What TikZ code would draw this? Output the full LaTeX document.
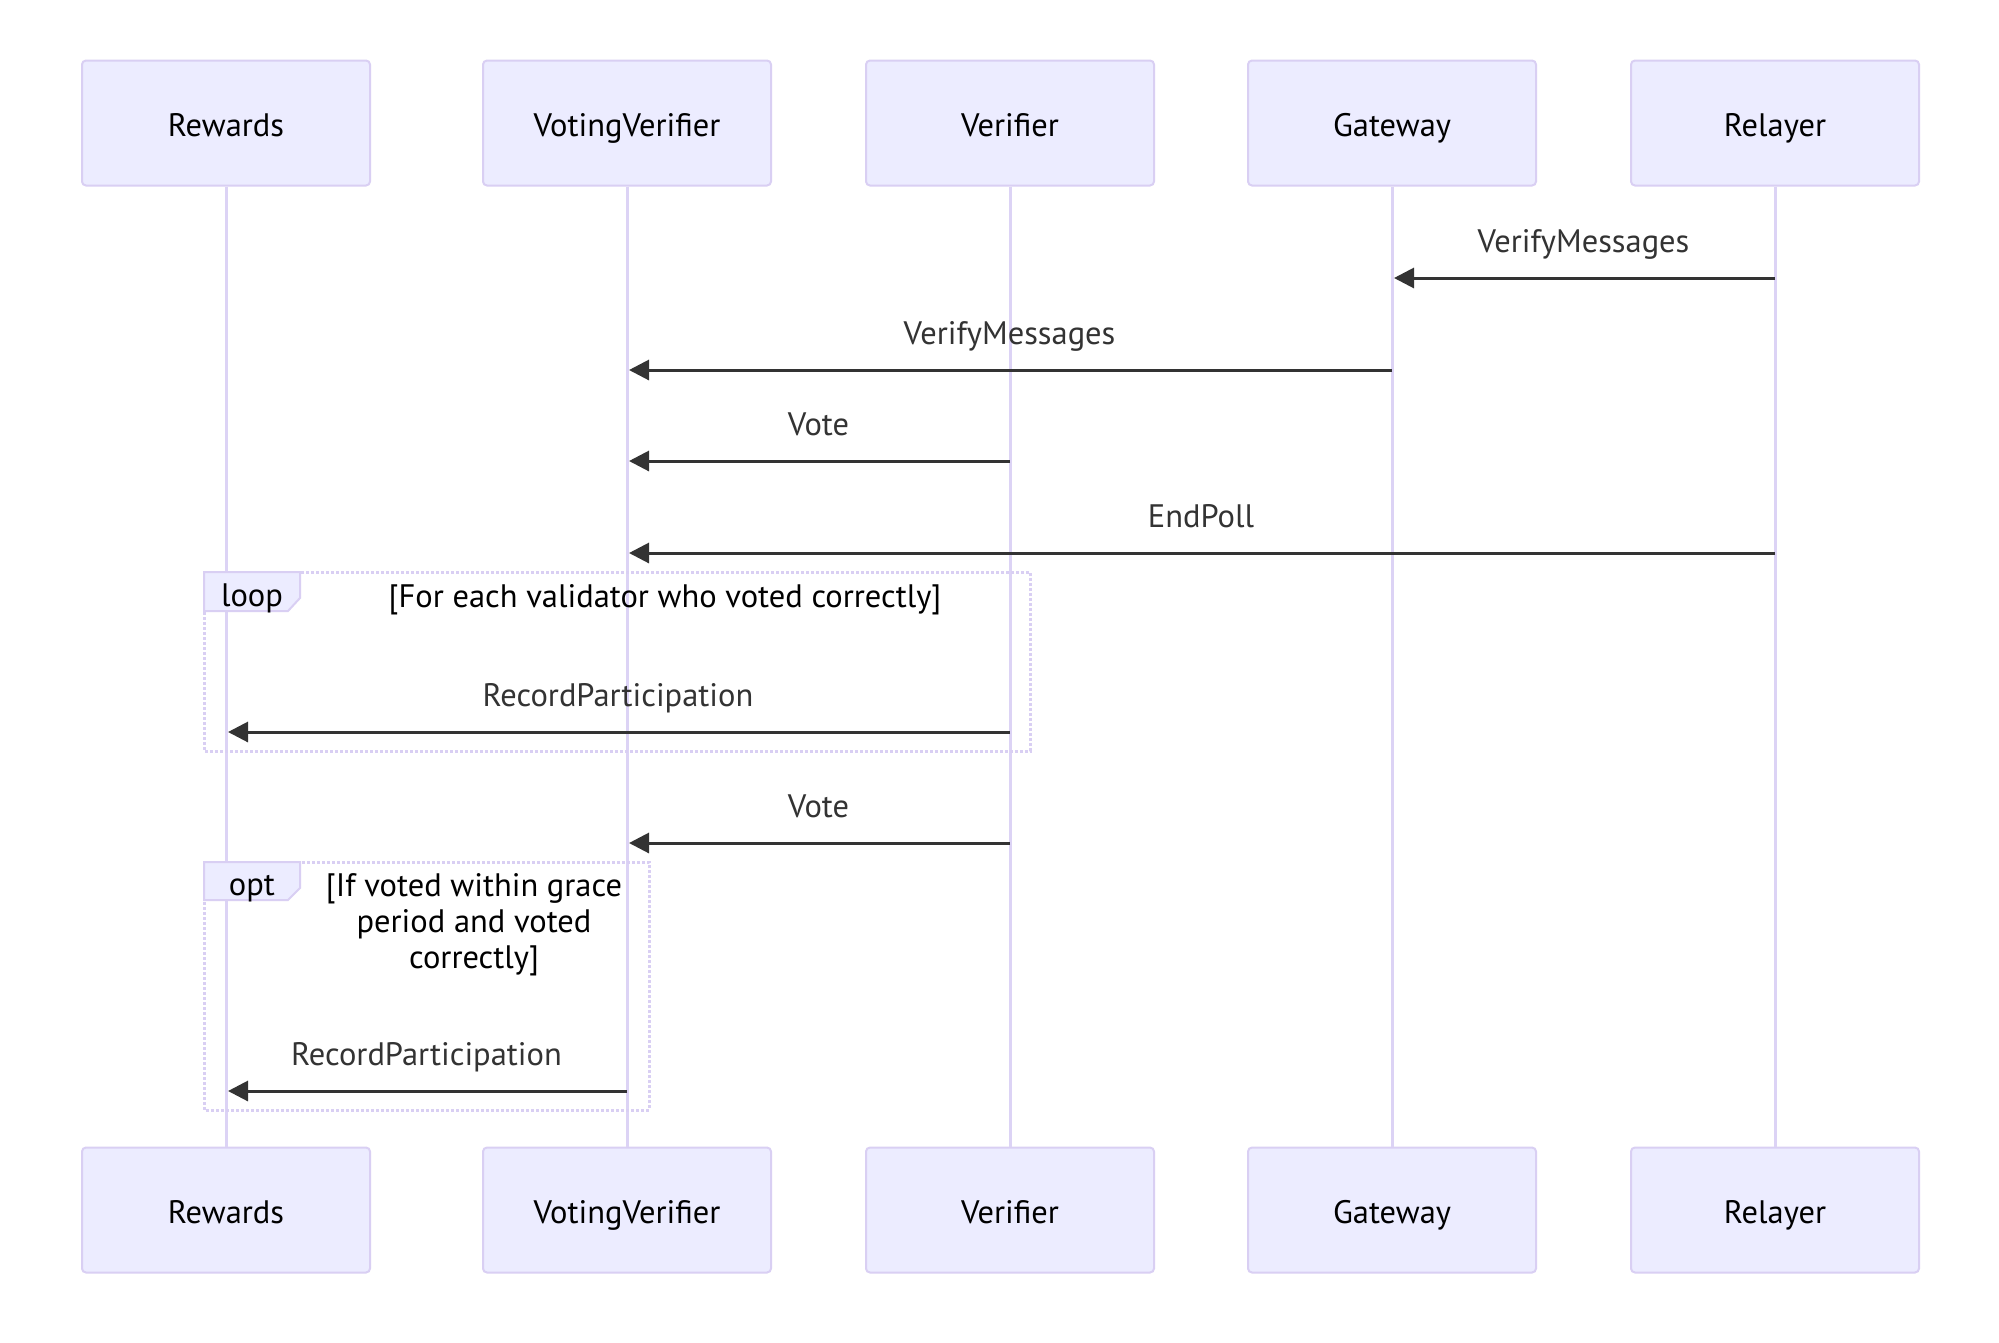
\documentclass[tikz,border=0pt]{standalone}
\usepackage{fontspec}
\setmainfont{PT Sans}
\usepackage{tikz}
\usetikzlibrary{arrows.meta}

\definecolor{boxfill}{HTML}{ECECFF}
\definecolor{boxline}{HTML}{D9CFF3}
\definecolor{lifeline}{HTML}{DCD3F5}
\definecolor{msgline}{HTML}{333333}

\tikzset{
  bigtext/.style={font=\fontsize{32.5}{36}\selectfont, text height=24pt, text depth=7pt},
  actor/.style={bigtext, text height=34pt, draw=boxline, fill=boxfill, line width=2pt, rounded corners=4pt,
    minimum width=288pt, minimum height=125pt, text=black},
  tagtext/.style={bigtext, text height=29pt},
  life/.style={draw=lifeline, line width=3pt},
  msg/.style={draw=msgline, line width=3pt, -{Triangle[length=20pt,width=20pt]}, shorten >=2pt},
  msglabel/.style={bigtext, text=msgline},
  frame/.style={draw=boxline, line width=3pt, dotted},
  tab/.style={draw=boxline, fill=boxfill, line width=2pt},
  cond/.style={font=\fontsize{32.5}{36}\selectfont, align=center, text=black}
}

\begin{document}
\begin{tikzpicture}[x=1pt, y=-1pt]
\useasboundingbox (0,0) rectangle (1999,1342);
\fill[white] (0,0) rectangle (1999,1342);

% actors on top
\node[actor] (rt) at (226,123) {Rewards};
\node[actor] (vvt) at (627,123) {VotingVerifier};
\node[actor] (vt) at (1010,123) {Verifier};
\node[actor] (gt) at (1392,123) {Gateway};
\node[actor] (rlt) at (1775,123) {Relayer};

% actors at the bottom
\node[actor] (rb) at (226,1210) {Rewards};
\node[actor] (vvb) at (627,1210) {VotingVerifier};
\node[actor] (vb) at (1010,1210) {Verifier};
\node[actor] (gb) at (1392,1210) {Gateway};
\node[actor] (rlb) at (1775,1210) {Relayer};

% lifelines
\draw[life] (rt) -- (rb);
\draw[life] (vvt) -- (vvb);
\draw[life] (vt) -- (vb);
\draw[life] (gt) -- (gb);
\draw[life] (rlt) -- (rlb);

% loop frame
\draw[frame] (204,572) rectangle (1030,751);
\draw[tab] (204,572) -- (300,572) -- (300,598) -- (288,611) -- (204,611) -- cycle;
\node[tagtext] (looptag) at (252,595) {loop};
\node[cond] (loopcond) at (665,600) {[For each validator who voted correctly]};

% opt frame
\draw[frame] (204,862) rectangle (649,1110);
\draw[tab] (204,862) -- (300,862) -- (300,888) -- (288,900) -- (204,900) -- cycle;
\node[tagtext] (opttag) at (252,884) {opt};
\node[cond] (optcond) at (474,925) {[If voted within grace\\period and voted\\correctly]};

% message ends
\coordinate (rl1) at (1775,278);
\coordinate (g1) at (1392,278);
\coordinate (g2) at (1392,370);
\coordinate (vv2) at (627,370);
\coordinate (v3) at (1010,461);
\coordinate (vv3) at (627,461);
\coordinate (rl4) at (1775,553);
\coordinate (vv4) at (627,553);
\coordinate (v5) at (1010,732);
\coordinate (r5) at (226,732);
\coordinate (v6) at (1010,843);
\coordinate (vv6) at (627,843);
\coordinate (vv7) at (627,1091);
\coordinate (r7) at (226,1091);

% messages
\draw[msg] (rl1) -- (g1) node[msglabel, midway, yshift=34pt] {VerifyMessages};
\draw[msg] (g2) -- (vv2) node[msglabel, midway, yshift=34pt] {VerifyMessages};
\draw[msg] (v3) -- (vv3) node[msglabel, midway, yshift=34pt] {Vote};
\draw[msg] (rl4) -- (vv4) node[msglabel, midway, yshift=34pt] {EndPoll};
\draw[msg] (v5) -- (r5) node[msglabel, midway, yshift=34pt] {RecordParticipation};
\draw[msg] (v6) -- (vv6) node[msglabel, midway, yshift=34pt] {Vote};
\draw[msg] (vv7) -- (r7) node[msglabel, midway, yshift=34pt] {RecordParticipation};
\end{tikzpicture}
\end{document}
